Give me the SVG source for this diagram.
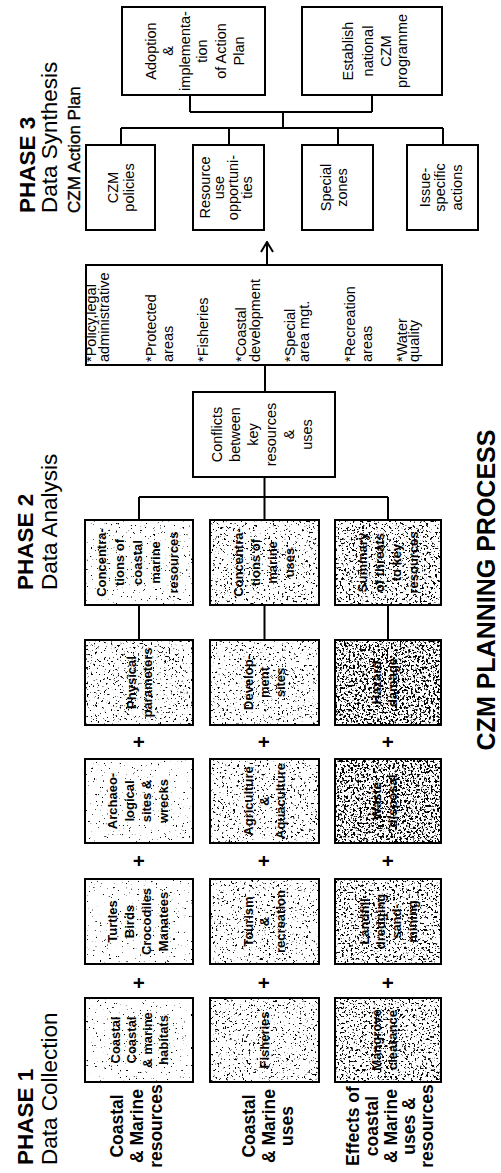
<svg xmlns="http://www.w3.org/2000/svg" width="501" height="1173" viewBox="0 0 501 1173">
<style>
.bg{fill:#fff}
.o{fill:none;stroke:#000;stroke-width:2}
.ln{fill:none;stroke:#000;stroke-width:2}
.t{font-family:"Liberation Sans",Arial,sans-serif;font-weight:bold;font-size:13px;text-anchor:middle;fill:#000}
.r{font-family:"Liberation Sans",Arial,sans-serif;font-size:14.5px;text-anchor:middle;fill:#000}
.li{font-family:"Liberation Sans",Arial,sans-serif;font-size:14.5px;text-anchor:start;fill:#000}
.lb{font-family:"Liberation Sans",Arial,sans-serif;font-weight:bold;font-size:17.5px;text-anchor:middle;fill:#000}
.ph{font-family:"Liberation Sans",Arial,sans-serif;font-weight:bold;font-size:22.5px;fill:#000}
.ds{font-family:"Liberation Sans",Arial,sans-serif;font-size:22.5px;fill:#000}
.pl{font-family:"Liberation Sans",Arial,sans-serif;font-weight:bold;font-size:20px;text-anchor:middle;fill:#000}
.s1{filter:url(#f1)}.s2{filter:url(#f2)}.s3{filter:url(#f3)}.s4{filter:url(#f4)}
</style>
<defs>
<filter id="f1" x="0" y="0" width="1" height="1" color-interpolation-filters="sRGB"><feTurbulence type="fractalNoise" baseFrequency="0.45" numOctaves="3" seed="4"/><feColorMatrix type="matrix" values="0 0 0 0 0 0 0 0 0 0 0 0 0 0 0 14 0 0 0 -9.9"/></filter>
<filter id="f2" x="0" y="0" width="1" height="1" color-interpolation-filters="sRGB"><feTurbulence type="fractalNoise" baseFrequency="0.45" numOctaves="3" seed="7"/><feColorMatrix type="matrix" values="0 0 0 0 0 0 0 0 0 0 0 0 0 0 0 14 0 0 0 -8.9"/></filter>
<filter id="f3" x="0" y="0" width="1" height="1" color-interpolation-filters="sRGB"><feTurbulence type="fractalNoise" baseFrequency="0.45" numOctaves="3" seed="9"/><feColorMatrix type="matrix" values="0 0 0 0 0 0 0 0 0 0 0 0 0 0 0 14 0 0 0 -8.2"/></filter>
<filter id="f4" x="0" y="0" width="1" height="1" color-interpolation-filters="sRGB"><feTurbulence type="fractalNoise" baseFrequency="0.45" numOctaves="3" seed="11"/><feColorMatrix type="matrix" values="0 0 0 0 0 0 0 0 0 0 0 0 0 0 0 14 0 0 0 -7.4"/></filter>
<marker id="ah" viewBox="0 0 12 14" refX="11" refY="7" markerWidth="12" markerHeight="14" markerUnits="userSpaceOnUse" orient="auto"><path d="M1,1 L11,7 L1,13" fill="none" stroke="#000" stroke-width="2"/></marker>
</defs>
<rect width="501" height="1173" fill="#fff"/>
<g transform="translate(0,1173) rotate(-90)">

<g id="labels">
<text class="ph" x="8" y="33">PHASE 1</text>
<text class="ds" x="8" y="57">Data Collection</text>
<text class="ph" x="583" y="33">PHASE 2</text>
<text class="ds" x="583" y="57">Data Analysis</text>
<text class="ph" x="960" y="35">PHASE 3</text>
<text class="ds" x="960" y="57">Data Synthesis</text>
<text class="ph" x="960" y="80" style="font-size:17px;font-weight:normal;stroke:#000;stroke-width:0.4">CZM Action Plan</text>
<text class="ph" x="583" y="495" style="font-size:25px;text-anchor:middle">CZM PLANNING PROCESS</text>
<text class="lb"><tspan x="47" y="123">Coastal</tspan><tspan x="47" y="143">&amp; Marine</tspan><tspan x="47" y="162">resources</tspan></text>
<text class="lb"><tspan x="47" y="255">Coastal</tspan><tspan x="47" y="275">&amp; Marine</tspan><tspan x="47" y="293">uses</tspan></text>
<text class="lb"><tspan x="47" y="359">Effects of</tspan><tspan x="47" y="378">coastal</tspan><tspan x="47" y="397">&amp; Marine</tspan><tspan x="47" y="415">uses &amp;</tspan><tspan x="47" y="433">resources</tspan></text>
<text class="pl" x="190" y="146">+</text><text class="pl" x="190" y="271">+</text><text class="pl" x="190" y="395">+</text>
<text class="pl" x="312" y="146">+</text><text class="pl" x="312" y="271">+</text><text class="pl" x="312" y="395">+</text>
<text class="pl" x="431" y="146">+</text><text class="pl" x="431" y="271">+</text><text class="pl" x="431" y="395">+</text>
</g>

<g id="connectors">
<path class="ln" d="M533,139 H568 M533,264.5 H568 M533,388 H568"/>
<path class="ln" d="M653,139 H676 M653,264.5 H676 M653,388 H676 M676,139 V388 M676,264.5 H696"/>
<path class="ln" d="M781,265 H808"/>
<path class="ln" d="M908,267 H931" marker-end="url(#ah)"/>
<path class="ln" d="M1028,121 H1045 M1028,229 H1045 M1028,338 H1045 M1028,443 H1045"/>
<path class="ln" d="M1045,121 V443 M1045,283 H1061 M1061,190 V372 M1061,190 H1078 M1061,372 H1078"/>
</g>

<g id="n-a1"><rect class="bg" x="91" y="85" width="84" height="108"/><rect class="s1" x="91" y="85" width="84" height="108"/><text class="t"><tspan x="133" y="119.5">Coastal</tspan><tspan x="133" y="135.5">Coastal</tspan><tspan x="133" y="151.5">&amp; marine</tspan><tspan x="133" y="167.5">habitats</tspan></text><rect class="o" x="91" y="85" width="84" height="108"/></g>
<g id="n-a2"><rect class="bg" x="91" y="210" width="84" height="109"/><rect class="s2" x="91" y="210" width="84" height="109"/><text class="t" x="133" y="269">Fisheries</text><rect class="o" x="91" y="210" width="84" height="109"/></g>
<g id="n-a3"><rect class="bg" x="91" y="335" width="84" height="106"/><rect class="s3" x="91" y="335" width="84" height="106"/><text class="t"><tspan x="133" y="380.5">Mangrove</tspan><tspan x="133" y="396.5">clearance</tspan></text><rect class="o" x="91" y="335" width="84" height="106"/></g>

<g id="n-b1"><rect class="bg" x="209" y="85" width="85" height="108"/><rect class="s1" x="209" y="85" width="85" height="108"/><text class="t"><tspan x="251.5" y="117">Turtles</tspan><tspan x="251.5" y="134">Birds</tspan><tspan x="251.5" y="151">Crocodiles</tspan><tspan x="251.5" y="168">Manatees</tspan></text><rect class="o" x="209" y="85" width="85" height="108"/></g>
<g id="n-b2"><rect class="bg" x="209" y="210" width="85" height="109"/><rect class="s2" x="209" y="210" width="85" height="109"/><text class="t"><tspan x="251.5" y="253">Tourism</tspan><tspan x="251.5" y="269">&amp;</tspan><tspan x="251.5" y="285">recreation</tspan></text><rect class="o" x="209" y="210" width="85" height="109"/></g>
<g id="n-b3"><rect class="bg" x="209" y="335" width="85" height="106"/><rect class="s3" x="209" y="335" width="85" height="106"/><text class="t"><tspan x="251.5" y="368.5">Landfill</tspan><tspan x="251.5" y="384.5">dredging</tspan><tspan x="251.5" y="400.5">sand-</tspan><tspan x="251.5" y="416.5">mining</tspan></text><rect class="o" x="209" y="335" width="85" height="106"/></g>

<g id="n-c1"><rect class="bg" x="330" y="85" width="84" height="108"/><rect class="s1" x="330" y="85" width="84" height="108"/><text class="t"><tspan x="372" y="117">Archaeo-</tspan><tspan x="372" y="134">logical</tspan><tspan x="372" y="151">sites &amp;</tspan><tspan x="372" y="168">wrecks</tspan></text><rect class="o" x="330" y="85" width="84" height="108"/></g>
<g id="n-c2"><rect class="bg" x="330" y="210" width="84" height="109"/><rect class="s2" x="330" y="210" width="84" height="109"/><text class="t"><tspan x="372" y="253">Agriculture</tspan><tspan x="372" y="269">&amp;</tspan><tspan x="372" y="285">Aquaculture</tspan></text><rect class="o" x="330" y="210" width="84" height="109"/></g>
<g id="n-c3"><rect class="bg" x="330" y="335" width="84" height="106"/><rect class="s4" x="330" y="335" width="84" height="106"/><text class="t"><tspan x="372" y="380.5">Waste</tspan><tspan x="372" y="396.5">disposal</tspan></text><rect class="o" x="330" y="335" width="84" height="106"/></g>

<g id="n-d1"><rect class="bg" x="448" y="85" width="85" height="108"/><rect class="s2" x="448" y="85" width="85" height="108"/><text class="t"><tspan x="490.5" y="135.5">Physical</tspan><tspan x="490.5" y="151.5">parameters</tspan></text><rect class="o" x="448" y="85" width="85" height="108"/></g>
<g id="n-d2"><rect class="bg" x="448" y="210" width="85" height="109"/><rect class="s2" x="448" y="210" width="85" height="109"/><text class="t"><tspan x="490.5" y="253">Develop-</tspan><tspan x="490.5" y="269">ment</tspan><tspan x="490.5" y="285">sites</tspan></text><rect class="o" x="448" y="210" width="85" height="109"/></g>
<g id="n-d3"><rect class="bg" x="448" y="335" width="85" height="106"/><rect class="s4" x="448" y="335" width="85" height="106"/><text class="t"><tspan x="490.5" y="380.5">Hazard</tspan><tspan x="490.5" y="396.5">damage</tspan></text><rect class="o" x="448" y="335" width="85" height="106"/></g>

<g id="n-e1"><rect class="bg" x="568" y="85" width="85" height="108"/><rect class="s1" x="568" y="85" width="85" height="108"/><text class="t"><tspan x="610.5" y="106">Concentra-</tspan><tspan x="610.5" y="124">tions of</tspan><tspan x="610.5" y="142">coastal</tspan><tspan x="610.5" y="160">marine</tspan><tspan x="610.5" y="178">resources</tspan></text><rect class="o" x="568" y="85" width="85" height="108"/></g>
<g id="n-e2"><rect class="bg" x="568" y="210" width="85" height="109"/><rect class="s2" x="568" y="210" width="85" height="109"/><text class="t"><tspan x="610.5" y="243">Concentra-</tspan><tspan x="610.5" y="260">tions of</tspan><tspan x="610.5" y="277">marine</tspan><tspan x="610.5" y="294">uses</tspan></text><rect class="o" x="568" y="210" width="85" height="109"/></g>
<g id="n-e3"><rect class="bg" x="568" y="335" width="85" height="106"/><rect class="s3" x="568" y="335" width="85" height="106"/><text class="t"><tspan x="610.5" y="367">Summary</tspan><tspan x="610.5" y="384">of threats</tspan><tspan x="610.5" y="401">to key</tspan><tspan x="610.5" y="418">resources</tspan></text><rect class="o" x="568" y="335" width="85" height="106"/></g>

<g id="n-conflicts"><rect class="bg" x="696" y="193" width="85" height="142"/><text class="r"><tspan x="738.5" y="222">Conflicts</tspan><tspan x="738.5" y="240">between</tspan><tspan x="738.5" y="258">key</tspan><tspan x="738.5" y="276">resources</tspan><tspan x="738.5" y="294">&amp;</tspan><tspan x="738.5" y="312">uses</tspan></text><rect class="o" x="696" y="193" width="85" height="142"/></g>

<g id="n-issues"><rect class="bg" x="808" y="86" width="100" height="356"/><text class="li"><tspan x="811" y="96">*Policy,legal</tspan><tspan x="811" y="109">administrative</tspan><tspan x="811" y="156">*Protected</tspan><tspan x="811" y="173">areas</tspan><tspan x="811" y="208">*Fisheries</tspan><tspan x="811" y="246">*Coastal</tspan><tspan x="811" y="260">development</tspan><tspan x="811" y="295">*Special</tspan><tspan x="811" y="309">area mgt.</tspan><tspan x="811" y="355">*Recreation</tspan><tspan x="811" y="372">areas</tspan><tspan x="811" y="407">*Water</tspan><tspan x="811" y="419">quality</tspan></text><rect class="o" x="808" y="86" width="100" height="356"/></g>

<g id="n-policies"><rect class="o" x="943" y="86" width="85" height="69"/><text class="r"><tspan x="985.5" y="118">CZM</tspan><tspan x="985.5" y="134">policies</tspan></text></g>
<g id="n-resource"><rect class="o" x="943" y="193" width="85" height="71"/><text class="r"><tspan x="985.5" y="210">Resource</tspan><tspan x="985.5" y="224">use</tspan><tspan x="985.5" y="238">opportuni-</tspan><tspan x="985.5" y="252">ties</tspan></text></g>
<g id="n-zones"><rect class="o" x="943" y="302" width="85" height="71"/><text class="r"><tspan x="985.5" y="331">Special</tspan><tspan x="985.5" y="347">zones</tspan></text></g>
<g id="n-issue"><rect class="o" x="943" y="407" width="85" height="71"/><text class="r"><tspan x="985.5" y="430">Issue-</tspan><tspan x="985.5" y="445">specific</tspan><tspan x="985.5" y="462">actions</tspan></text></g>
<g id="n-adoption"><rect class="o" x="1078" y="122" width="88" height="143"/><text class="r"><tspan x="1122" y="156">Adoption</tspan><tspan x="1122" y="173">&amp;</tspan><tspan x="1122" y="190">implementa-</tspan><tspan x="1122" y="207">tion</tspan><tspan x="1122" y="226">of Action</tspan><tspan x="1122" y="244">Plan</tspan></text></g>
<g id="n-establish"><rect class="o" x="1078" y="302" width="88" height="140"/><text class="r"><tspan x="1122" y="353">Establish</tspan><tspan x="1122" y="373">national</tspan><tspan x="1122" y="391">CZM</tspan><tspan x="1122" y="407">programme</tspan></text></g>
</g>
</svg>
